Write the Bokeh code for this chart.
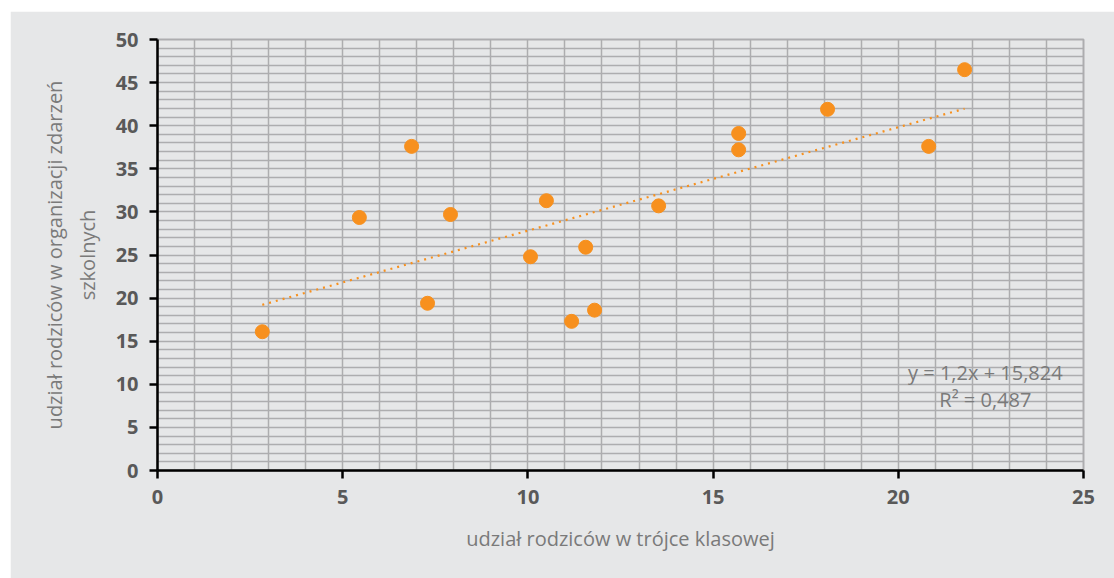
from bokeh.plotting import figure
from bokeh.models import FixedTicker, Label, Range1d
from bokeh.embed import file_html
from bokeh.resources import INLINE

# data
x_vals = [2.83, 5.45, 6.86, 7.29, 7.91, 10.07, 10.50, 11.18, 11.56, 11.80,
          13.53, 15.69, 15.69, 18.09, 20.82, 21.79]
y_vals = [16.1, 29.35, 37.6, 19.4, 29.7, 24.8, 31.3, 17.3, 25.9, 18.6,
          30.7, 39.1, 37.2, 41.9, 37.6, 46.5]
slope = 1.2
intercept = 15.824
eq_text = "y = 1,2x + 15,824"
r2_text = "R² = 0,487"
x_ticks = [0, 5, 10, 15, 20, 25]
y_ticks = [0, 5, 10, 15, 20, 25, 30, 35, 40, 45, 50]
x_title = "udział rodziców w trójce klasowej"
y_title = "udział rodziców w organizacji zdarzeń\nszkolnych"

BG = "#e6e7e8"
GRID = "#adadaf"
ORANGE = "#f7901e"
TXT = "#595959"
LIGHT = "#7a7a7a"
FONT = "Open Sans"

p = figure(width=1104, height=567, output_backend="svg", toolbar_location=None,
           x_range=Range1d(0, 25), y_range=Range1d(0, 50),
           min_border_left=147, min_border_right=31, min_border_top=28,
           min_border_bottom=108)
p.margin = (11, 0, 0, 10)
p.background_fill_color = BG
p.border_fill_color = BG
p.outline_line_color = GRID
p.outline_line_width = 2

p.xgrid.ticker = FixedTicker(ticks=list(range(0, 26)))
p.ygrid.ticker = FixedTicker(ticks=list(range(0, 51)))
for g in (p.xgrid, p.ygrid):
    g.grid_line_color = GRID
    g.grid_line_width = 1.5

for ax, ticks in ((p.xaxis, x_ticks), (p.yaxis, y_ticks)):
    ax.ticker = FixedTicker(ticks=ticks)
    ax.axis_line_color = "black"
    ax.axis_line_width = 2.5
    ax.major_tick_line_color = "black"
    ax.major_tick_line_width = 2.5
    ax.major_tick_out = 8
    ax.major_tick_in = 0
    ax.minor_tick_line_color = None
    ax.major_label_text_font = FONT
    ax.major_label_text_font_style = "bold"
    ax.major_label_text_font_size = "20px"
    ax.major_label_text_color = TXT
    ax.major_label_standoff = 11
    ax.axis_label_text_font = FONT
    ax.axis_label_text_font_style = "normal"
    ax.axis_label_text_font_size = "20px"
    ax.axis_label_text_color = LIGHT

p.xaxis.axis_label = x_title
p.yaxis.axis_label = y_title
p.xaxis.axis_label_standoff = 18
p.yaxis.axis_label_standoff = 12

# trendline
x0, x1 = min(x_vals), max(x_vals)
p.line([x0, x1], [slope * x0 + intercept, slope * x1 + intercept],
       line_color=ORANGE, line_width=2.2, line_dash="2 5")

p.scatter(x_vals, y_vals, size=14, fill_color=ORANGE, line_color=ORANGE)

p.add_layout(Label(x=22.35, y=11.4, text=eq_text, text_align="center",
                   text_baseline="middle", text_font=FONT,
                   text_font_size="20px", text_color=LIGHT))
p.add_layout(Label(x=22.35, y=8.2, text=r2_text, text_align="center",
                   text_baseline="middle", text_font=FONT,
                   text_font_size="20px", text_color=LIGHT))

open("out.html", "w").write(file_html(p, INLINE))
